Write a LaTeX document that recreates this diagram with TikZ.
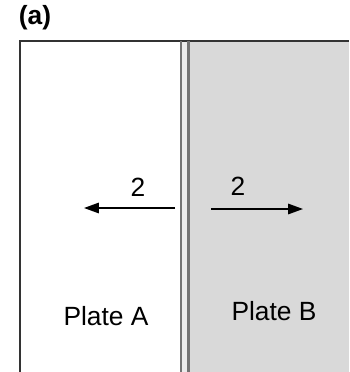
\documentclass[tikz,border=0pt]{standalone}
\usepackage{fontspec}
\setmainfont{Liberation Sans}
\usetikzlibrary{arrows.meta}
\usetikzlibrary{positioning}

\begin{document}
\begin{tikzpicture}[x=0.02cm,y=-0.02cm,
		flow/.style={-{Triangle[length=8.5pt,width=6pt]},line width=0.8pt},
		lbl/.style={font=\fontsize{15}{18}\selectfont,inner sep=0pt},
		wall/.style={line width=1.4pt,black!55}]
				\useasboundingbox (0,0) rectangle (349,372);
				% fill plate B
				\fill[black!15] (186,41) rectangle (349,372);
				\fill[black!8] (182,41) rectangle (187,372);
				% draw outline
				\draw[line width=1.1pt,black!80] (20,372) -- (20,41) -- (349,41);
				% draw double wall
				\draw[wall] (181,41) -- (181,372);
				\draw[wall] (188.5,41) -- (188.5,372);
				% add labels
				\node[lbl,font=\fontsize{15}{18}\selectfont\bfseries] (tag) at (35,18) {(a)};
				\node[lbl] (plateA) at (106,316) {Plate A};
				\node[lbl] (plateB) at (274,311) {Plate B};
				% add arrows
				\coordinate (tailA) at (175,208);
				\coordinate (headA) at (84,208);
				\coordinate (tailB) at (211,209);
				\coordinate (headB) at (303,209);
				\draw[flow] (tailA) -- (headA);
				\draw[flow] (tailB) -- (headB);
				\node[lbl] (numA) at (138,187) {2};
				\node[lbl] (numB) at (238,186) {2};
			\end{tikzpicture}
\end{document}
